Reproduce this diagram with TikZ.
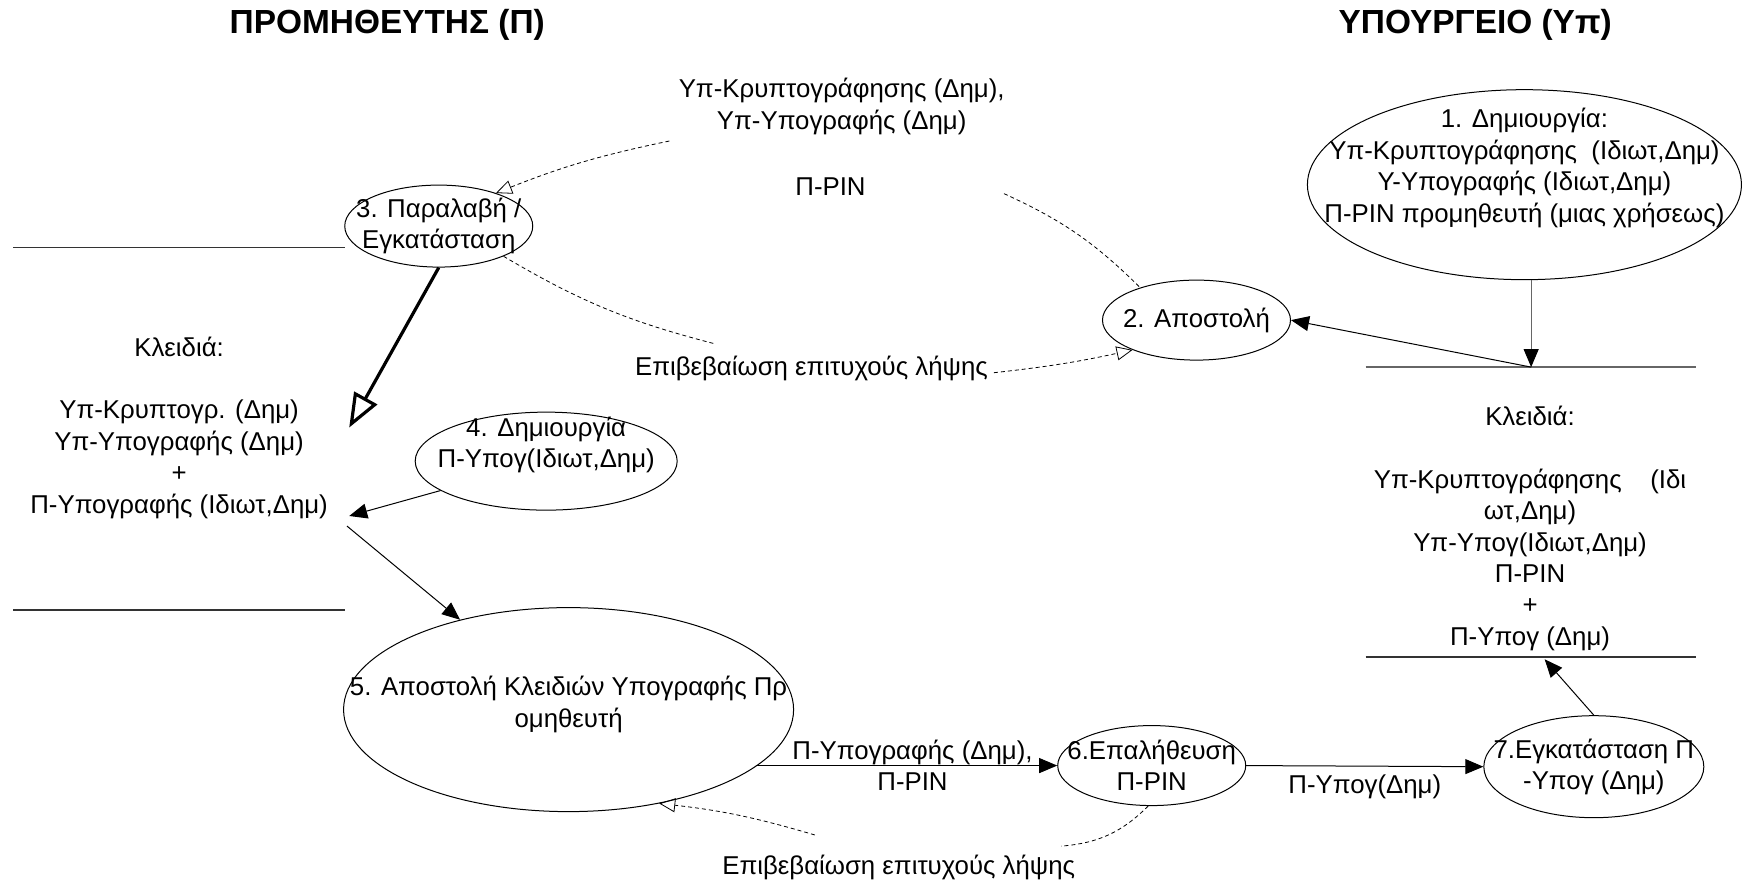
\documentclass[tikz,border=0pt]{standalone}
\usepackage{fontspec}
\setmainfont{Liberation Sans}
\usetikzlibrary{positioning,arrows.meta,shapes.geometric}

\begin{document}
\begin{tikzpicture}[x=0.5596pt,y=-0.5596pt]
	\tikzset{txt/.style = {font=\fontsize{12.9}{15.7}\selectfont,align=center,inner sep=0pt}}
	\tikzset{head/.style = {font=\fontsize{16.7}{20}\selectfont\bfseries,inner sep=0pt}}
	\tikzset{proc/.style = {shape=ellipse,draw,line width=0.5pt,inner sep=0pt}}
	\tikzset{flow/.style = {-{Triangle[length=9pt,width=7.5pt,color=black]},line width=0.5pt}}
	\tikzset{bigflow/.style = {-{Triangle[open,length=17pt,width=13pt]},line width=1.6pt}}
	\tikzset{ack/.style = {dash pattern=on 2pt off 1.5pt,line width=0.4pt}}
	\tikzset{ackto/.style = {ack,-{Triangle[open,length=8pt,width=7pt]}}}
	\tikzset{store/.style = {line width=0.6pt,black!80}}
	\tikzset{gstore/.style = {line width=0.7pt,black!60}}

	\useasboundingbox (0,0) rectangle (1568,791);

	% titles
	\node[head] (tprom) at (346,22) {ΠΡΟΜΗΘΕΥΤΗΣ (Π)};
	\node[head] (typ) at (1318,22) {ΥΠΟΥΡΓΕΙΟ (Υπ)};

	% processes
	\node[proc,minimum width=217pt,minimum height=95pt,label={[txt,yshift=8.4pt]center:{1. Δημιουργία:\\Υπ-Κρυπτογράφησης\ \ (Ιδιωτ,Δημ)\\Υ-Υπογραφής (Ιδιωτ,Δημ)\\Π-PIN προμηθευτή (μιας χρήσεως)}}] (e1) at (1362,165) {};
	\node[proc,minimum width=94pt,minimum height=40pt,label={[txt]center:{2. Αποστολή}}] (e2) at (1069,286) {};
	\node[proc,minimum width=94pt,minimum height=41pt,label={[txt]center:{3. Παραλαβή /\\Εγκατάσταση}}] (e3) at (392,202) {};
	\node[proc,minimum width=131pt,minimum height=49pt,label={[txt,yshift=8pt]center:{4. Δημιουργία\\Π-Υπογ(Ιδιωτ,Δημ)}}] (e4) at (488,412) {};
	\node[proc,minimum width=225pt,minimum height=102pt,label={[txt,yshift=2.5pt]center:{5. Αποστολή Κλειδιών Υπογραφής Πρ\\ομηθευτή}}] (e5) at (508,634) {};
	\node[proc,minimum width=94pt,minimum height=40pt,label={[txt]center:{6.Επαλήθευση\\Π-PIN}}] (e6) at (1029,684) {};
	\node[proc,minimum width=110pt,minimum height=51pt,label={[txt]center:{7.Εγκατάσταση Π\\-Υπογ (Δημ)}}] (e7) at (1424,685) {};

	% key stores
	\node[txt] (kp) at (160,382) {Κλειδιά:\\[15.7pt]Υπ-Κρυπτογρ. (Δημ)\\Υπ-Υπογραφής (Δημ)\\+\\Π-Υπογραφής (Ιδιωτ,Δημ)};
	\node[txt] (ky) at (1367,472) {Κλειδιά:\\[15.7pt]Υπ-Κρυπτογράφησης\ \ \ \ (Ιδι\\ωτ,Δημ)\\Υπ-Υπογ(Ιδιωτ,Δημ)\\Π-PIN\\+\\Π-Υπογ (Δημ)};
	\coordinate (kp1) at (12,221);
	\coordinate (kp2) at (308,221);
	\coordinate (kp3) at (12,545);
	\coordinate (kp4) at (308,545);
	\coordinate (ky1) at (1220,328);
	\coordinate (ky2) at (1515,328);
	\coordinate (ky3) at (1220,587);
	\coordinate (ky4) at (1515,587);
	\draw[store] (kp1) -- (kp2);
	\draw[store] (kp3) -- (kp4);
	\draw[gstore] (ky1) -- (ky2);
	\draw[store] (ky3) -- (ky4);

	% messages
	\node[txt] (m1) at (752,95) {Υπ-Κρυπτογράφησης (Δημ),\\Υπ-Υπογραφής (Δημ)};
	\node[txt] (m2) at (742,167) {Π-PIN};
	\node[txt] (m3) at (725,329) {Επιβεβαίωση επιτυχούς λήψης};
	\node[txt] (m4) at (803,775) {Επιβεβαίωση επιτυχούς λήψης};

	% solid flows
	\coordinate (kin) at (312,461);
	\coordinate (kout) at (310,470);
	\coordinate (kthick) at (312,382);
	\coordinate (yin) at (1368,328);
	\coordinate (yin2) at (1380,589);
	\draw[bigflow] (e3.south) -- (kthick);
	\draw[flow] (e4) -- (kin);
	\draw[flow] (kout) -- (e5);
	\draw[flow,black!60] (e1.south -| yin) -- (yin);
	\draw[flow] (yin) -- (e2.east);
	\draw[flow] (e7.north) -- (yin2);
	\draw[flow] (e5.-17 |- e6.west) -- node[txt,pos=0.52]{Π-Υπογραφής (Δημ),\\Π-PIN} (e6.west);
	\draw[flow] (e6.east) -- node[txt,below=4pt]{Π-Υπογ(Δημ)} (e7.west);

	% dashed flows
	\coordinate (d1) at (598,126);
	\coordinate (d2) at (897,173);
	\coordinate (d3) at (638,307);
	\coordinate (d4) at (888,333);
	\coordinate (d5) at (948,756);
	\coordinate (d6) at (728,746);
	\draw[ackto] (d1) to[bend right=5] (e3.30);
	\draw[ack] (d2) to[bend left=10] (e2.150);
	\draw[ack] (e3.-25) to[bend right=8] (d3);
	\draw[ackto] (d4) to[bend right=3] (e2.205);
	\draw[ack] (e6.-95) to[bend left=20] (d5);
	\draw[ackto] (d6) to[bend right=5] (e5.-46);
\end{tikzpicture}
\end{document}
